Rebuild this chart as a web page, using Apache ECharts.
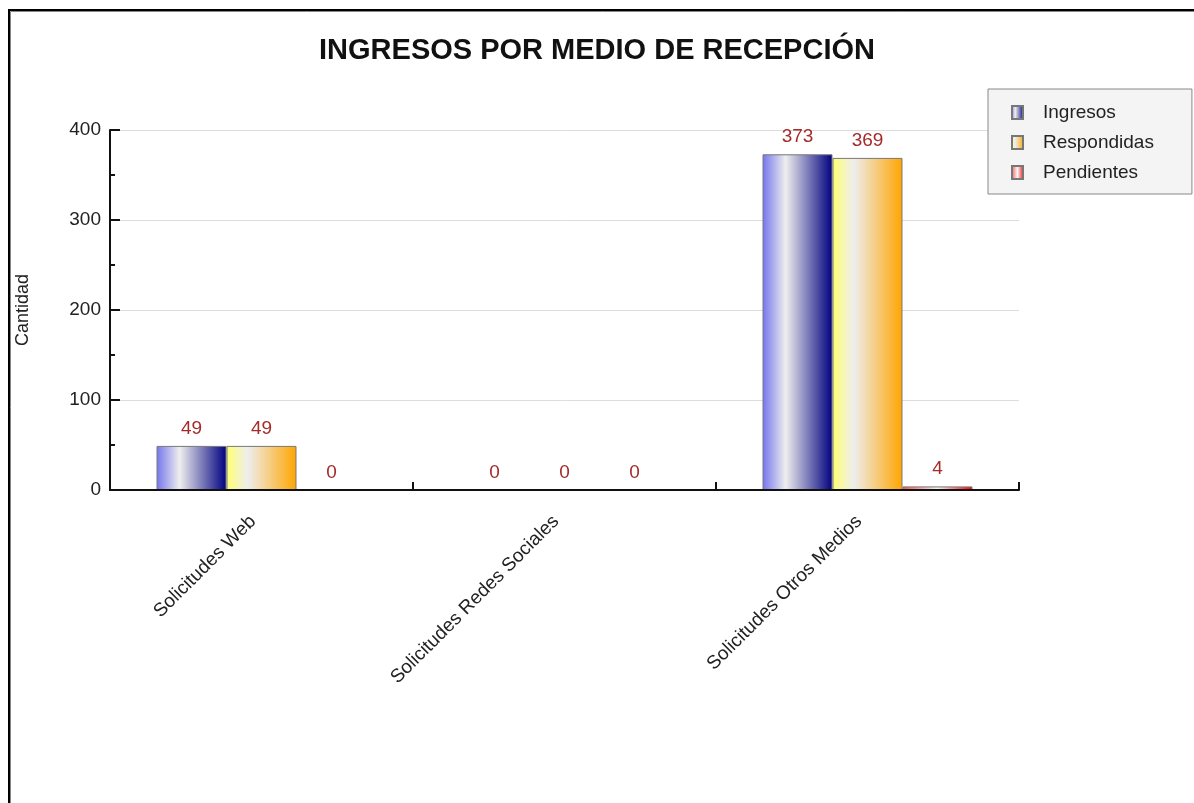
<!DOCTYPE html>
<html>
<head>
<meta charset="utf-8">
<title>Ingresos por medio de recepción</title>
<script src="https://cdn.jsdelivr.net/npm/echarts@6/dist/echarts.min.js"></script>
<style>
  html, body { margin: 0; padding: 0; background: #fff; }
  #chart { width: 1194px; height: 803px; }
</style>
</head>
<body>
<div id="chart"></div>
<script>
// datos
const categorias = ['Solicitudes Web', 'Solicitudes Redes Sociales', 'Solicitudes Otros Medios'];
const ingresos = [49, 0, 373];
const respondidas = [49, 0, 369];
const pendientes = [0, 0, 4];
const yTicks = [0, 100, 200, 300, 400];

const fuente = '"Liberation Sans", Arial, sans-serif';

// degradado horizontal de cada barra (izq -> brillo -> der)
function degradado(c0, c1, c2, pos) {
  return new echarts.graphic.LinearGradient(0, 0, 1, 0, [
    { offset: 0, color: c0 },
    { offset: pos, color: c1 },
    { offset: 1, color: c2 }
  ]);
}

function serie(nombre, datos, color) {
  return {
    name: nombre,
    type: 'bar',
    data: datos.map(v => ({
      value: v,
      // las barras en cero no se dibujan, solo su etiqueta
      itemStyle: v === 0 ? { color: 'transparent', borderWidth: 0 } : undefined
    })),
    barGap: 0,
    barCategoryGap: '30.7%',
    itemStyle: {
      color: color,
      borderColor: '#777',
      borderWidth: 1
    },
    label: {
      show: true,
      position: 'top',
      distance: 8,
      color: '#a52a2a',
      fontFamily: fuente,
      fontSize: 19
    }
  };
}

const chart = echarts.init(document.getElementById('chart'));
chart.setOption({
  animation: false,
  backgroundColor: '#fff',
  title: {
    text: 'INGRESOS POR MEDIO DE RECEPCIÓN',
    left: 'center',
    top: 31,
    textStyle: {
      fontFamily: fuente,
      fontWeight: 'bold',
      fontSize: 29,
      color: '#111'
    }
  },
  legend: {
    orient: 'vertical',
    left: 988,
    top: 89,
    backgroundColor: '#f4f4f4',
    borderColor: '#888',
    borderWidth: 1,
    borderRadius: 0,
    padding: [14, 38, 12, 23],
    itemWidth: 11,
    itemHeight: 13,
    itemGap: 11,
    icon: 'rect',
    textStyle: {
      fontFamily: fuente,
      fontSize: 19,
      color: '#222',
      padding: [0, 0, 0, 15]
    },
    data: ['Ingresos', 'Respondidas', 'Pendientes']
  },
  grid: {
    left: 110,
    top: 130,
    right: 175,
    bottom: 313
  },
  xAxis: {
    type: 'category',
    data: categorias,
    z: 10,
    axisLine: { show: true, lineStyle: { color: '#111', width: 2 } },
    axisTick: { show: true, inside: true, length: 8, alignWithLabel: false, lineStyle: { color: '#111', width: 2 } },
    axisLabel: {
      rotate: 45,
      margin: 20,
      padding: [0, 12, 0, 0],
      fontFamily: fuente,
      fontSize: 19,
      color: '#222'
    },
    splitLine: { show: false }
  },
  yAxis: {
    type: 'value',
    min: yTicks[0],
    max: yTicks[yTicks.length - 1],
    interval: 100,
    name: 'Cantidad',
    nameLocation: 'middle',
    nameRotate: 90,
    nameGap: 78,
    nameTextStyle: { fontFamily: fuente, fontSize: 18, color: '#222' },
    axisLine: { show: true, lineStyle: { color: '#111', width: 2 } },
    axisTick: { show: true, inside: true, length: 10, lineStyle: { color: '#111', width: 2 } },
    minorTick: { show: true, splitNumber: 2, length: 5, lineStyle: { color: '#111', width: 2 } },
    axisLabel: {
      margin: 9,
      fontFamily: fuente,
      fontSize: 19,
      color: '#222'
    },
    splitLine: { show: true, lineStyle: { color: '#dddddd', width: 1 } }
  },
  series: [
    serie('Ingresos', ingresos, degradado('#7474ee', '#eeeeee', '#000080', 0.33)),
    serie('Respondidas', respondidas, degradado('#ffff70', '#eeeeee', '#ffa500', 0.3)),
    serie('Pendientes', pendientes, degradado('#ff5050', '#f4f4f4', '#ff0000', 0.5))
  ],
  graphic: [
    // marco del grafico (borde negro con linea gris interior)
    {
      type: 'rect',
      silent: true,
      shape: { x: 9, y: 10, width: 1300, height: 900 },
      style: { fill: null, stroke: '#000', lineWidth: 2 }
    },
    {
      type: 'rect',
      silent: true,
      shape: { x: 10.5, y: 11.5, width: 1300, height: 900 },
      style: { fill: null, stroke: '#888', lineWidth: 1 }
    }
  ]
});
</script>
</body>
</html>
